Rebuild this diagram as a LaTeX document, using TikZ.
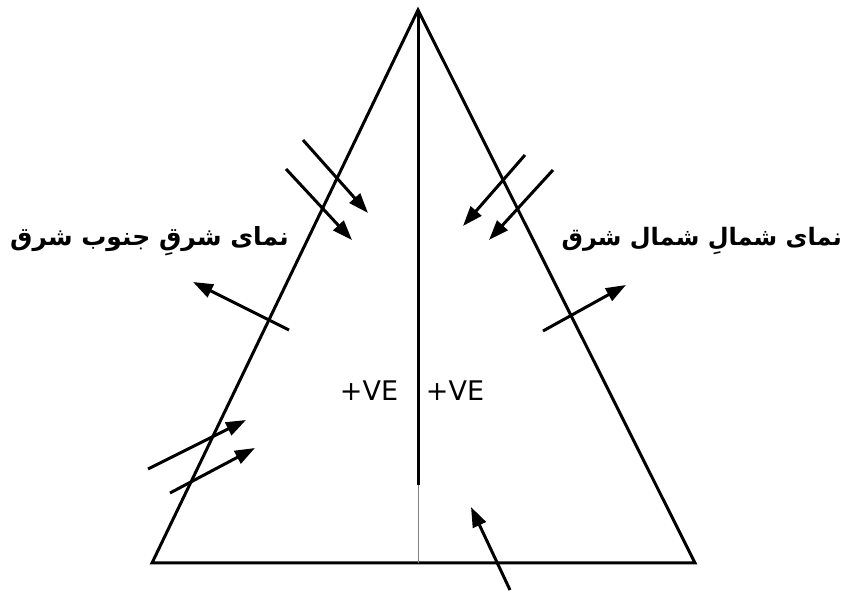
\documentclass[tikz,border=0pt]{standalone}
\usepackage{fontspec}
\usetikzlibrary{arrows.meta}
\TeXXeTstate=1
\newfontfamily\arabicfont[Script=Arabic]{DejaVu Sans}
\newfontfamily\vefont{DejaVu Sans}
\begin{document}
\begin{tikzpicture}[x=1pt,y=-1pt,
  edge/.style={line width=3pt,line join=miter},
  arr/.style={line width=3pt,-{Triangle[length=20pt,width=14pt]}},
  lbl/.style={inner sep=0pt,font=\arabicfont\bfseries\fontsize{24}{28}\selectfont},
  ve/.style={inner sep=0pt,font=\vefont\fontsize{27}{30}\selectfont}]
\useasboundingbox (0,0) rectangle (847,593);
\coordinate (apex) at (418,10);
\coordinate (bl) at (152,563);
\coordinate (br) at (695,563);
\coordinate (mid) at (418,485);
\coordinate (base) at (418,563);
\draw[edge] (bl) -- (apex) -- (br) -- cycle;
\draw[line width=3pt] (apex) -- (mid);
\draw[line width=1pt,gray] (mid) -- (base);
% arrows
\coordinate (a1s) at (303,140); \coordinate (a1e) at (368,213);
\coordinate (a2s) at (286,169); \coordinate (a2e) at (352,240);
\coordinate (a3s) at (525,155); \coordinate (a3e) at (463,226);
\coordinate (a4s) at (553,170); \coordinate (a4e) at (489,240);
\coordinate (a5s) at (289,330); \coordinate (a5e) at (193,282);
\coordinate (a6s) at (543,331); \coordinate (a6e) at (626,285);
\coordinate (a7s) at (148,469); \coordinate (a7e) at (246,420);
\coordinate (a8s) at (170,493); \coordinate (a8e) at (255,448);
\coordinate (a9s) at (510,590); \coordinate (a9e) at (471,507);
\foreach \i in {1,...,9} \draw[arr] (a\i s) -- (a\i e);
% labels
\node[lbl,anchor=west,font=\arabicfont\bfseries\fontsize{25}{28}\selectfont] (west) at (10,241) {\beginR نمای شرقِ جنوب شرق\endR};
\node[lbl,anchor=east] (east) at (842,241) {\beginR نمای شمالِ شمال شرق\endR};
\node[ve] (veL) at (369,391) {+VE};
\node[ve] (veR) at (455,391) {+VE};
\end{tikzpicture}
\end{document}
